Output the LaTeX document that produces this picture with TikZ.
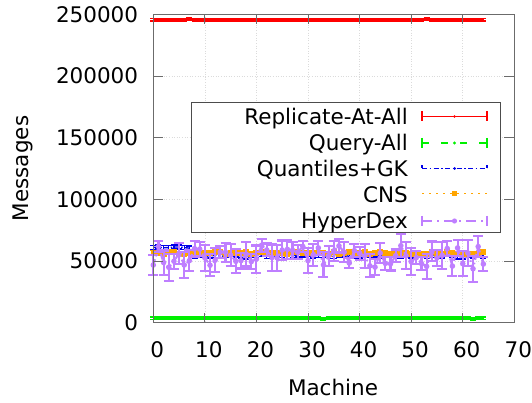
\documentclass[tikz,border=0pt]{standalone}
\usepackage{fontspec}
\setmainfont{DejaVu Sans}
\usetikzlibrary{calc}
\definecolor{repred}{HTML}{FF0000}
\definecolor{qgreen}{HTML}{00F000}
\definecolor{qblue}{HTML}{0000E8}
\definecolor{cnsorange}{HTML}{FFA500}
\definecolor{hdpurple}{HTML}{BF7FFF}
\begin{document}
\begin{tikzpicture}[x=1pt,y=-1pt,
  lbl/.style={inner sep=0pt, font=\fontsize{21.5}{25}\selectfont},
  frame/.style={draw=black!58, line width=0.9pt},
  gridline/.style={draw=black!14, dotted, line width=0.6pt},
  tickmark/.style={draw=black!58, line width=0.9pt},
  redser/.style={draw=repred, line width=1.4pt},
  greenser/.style={draw=qgreen, line width=1.4pt},
  blueser/.style={draw=qblue, line width=1.4pt},
  orangeser/.style={draw=cnsorange, line width=1.6pt},
  purpser/.style={draw=hdpurple, line width=2.1pt},
  keybox/.style={draw=black!70, fill=white, line width=0.8pt},
]
\useasboundingbox (0,0) rectangle (532,403);

% grid
\foreach \m in {10,20,...,60}
  \draw[gridline] ({153.3+\m*5.157},14.5) -- ({153.3+\m*5.157},322.7);
\foreach \k in {50,100,150,200}
  \draw[gridline] (153.3,{322.7-\k*1.2328}) -- (514.3,{322.7-\k*1.2328});

% Replicate-At-All
\pgfmathsetseed{7}
\foreach \i in {0,...,64}{
  \pgfmathsetmacro\px{153.3+\i*5.157}
  \pgfmathsetmacro\py{322.7-(245.8+0.15*rand)*1.2328}
  \coordinate (r\i) at (\px,\py);
  \draw[redser] ({\px-3},{\py-1.3}) -- ({\px+3},{\py-1.3}) (\px,{\py-1.3}) -- (\px,{\py+1.3}) ({\px-3},{\py+1.3}) -- ({\px+3},{\py+1.3});
}
\draw[redser, line width=2.2pt] (r0) \foreach \i in {1,...,64}{ -- (r\i)};

% Query-All
\pgfmathsetseed{21}
\foreach \i in {0,...,64}{
  \pgfmathsetmacro\px{153.3+\i*5.157}
  \pgfmathsetmacro\py{322.7-(3.8+0.4*rand)*1.2328}
  \coordinate (g\i) at (\px,\py);
  \draw[greenser] ({\px-3},{\py-1.3}) -- ({\px+3},{\py-1.3}) (\px,{\py-1.3}) -- (\px,{\py+1.3}) ({\px-3},{\py+1.3}) -- ({\px+3},{\py+1.3});
}
\draw[greenser, line width=2.2pt] (g0) \foreach \i in {1,...,64}{ -- (g\i)};

% Quantiles+GK
\pgfmathsetseed{33}
\foreach \i in {0,...,64}{
  \pgfmathsetmacro\px{153.3+\i*5.157}
  \pgfmathsetmacro\vb{ifthenelse(\i<8, 61.0+0.5*rand, 54.3+1.0*rand)}
  \pgfmathsetmacro\py{322.7-\vb*1.2328}
  \coordinate (b\i) at (\px,\py);
  \draw[blueser] ({\px-3},{\py-2}) -- ({\px+3},{\py-2}) (\px,{\py-2}) -- (\px,{\py+2}) ({\px-3},{\py+2}) -- ({\px+3},{\py+2});
}
\draw[blueser, dash pattern=on 5pt off 2pt on 1.5pt off 2pt] (b0) \foreach \i in {1,...,64}{ -- (b\i)};

% CNS
\pgfmathsetseed{45}
\foreach \i in {0,...,64}{
  \pgfmathsetmacro\px{153.3+\i*5.157}
  \pgfmathsetmacro\py{322.7-(56.5+0.8*rand)*1.2328}
  \coordinate (c\i) at (\px,\py);
  \draw[orangeser] ({\px-3},{\py-2.2}) -- ({\px+3},{\py-2.2}) (\px,{\py-2.2}) -- (\px,{\py+2.2}) ({\px-3},{\py+2.2}) -- ({\px+3},{\py+2.2});
  \fill[cnsorange] ({\px-2.6},{\py-2.6}) rectangle ({\px+2.6},{\py+2.6});
}
\draw[orangeser, dotted] (c0) \foreach \i in {1,...,64}{ -- (c\i)};

% HyperDex
\pgfmathsetseed{58}
\foreach \i in {0,...,64}{
  \pgfmathsetmacro\px{153.3+\i*5.157}
  \pgfmathsetmacro\vh{53+10*rand}
  \pgfmathsetmacro\eh{(4+7*rnd)*1.2328}
  \pgfmathsetmacro\py{322.7-\vh*1.2328}
  \coordinate (h\i) at (\px,\py);
  \draw[purpser] ({\px-5},{\py-\eh}) -- ({\px+5},{\py-\eh}) (\px,{\py-\eh}) -- (\px,{\py+\eh}) ({\px-5},{\py+\eh}) -- ({\px+5},{\py+\eh});
  \fill[hdpurple] (\px,\py) circle (2.8);
}
\draw[purpser, dash pattern=on 6pt off 3pt on 1.5pt off 3pt] (h0) \foreach \i in {1,...,64}{ -- (h\i)};

% frame and ticks
\draw[frame] (153.3,14.5) rectangle (514.3,322.7);
\foreach \m in {10,20,...,60}{
  \draw[tickmark] ({153.3+\m*5.157},322.7) -- ({153.3+\m*5.157},312.7);
  \draw[tickmark] ({153.3+\m*5.157},14.5) -- ({153.3+\m*5.157},24.5);
}
\foreach \k in {50,100,150,200}{
  \draw[tickmark] (153.3,{322.7-\k*1.2328}) -- (163.3,{322.7-\k*1.2328});
  \draw[tickmark] (514.3,{322.7-\k*1.2328}) -- (504.3,{322.7-\k*1.2328});
}

% tick labels
\foreach \m in {0,10,...,70}
  \node[lbl, anchor=base] (xt\m) at ({157.3+\m*5.157},357.8) {\m};
\foreach \k/\t in {0/0,50/50000,100/100000,150/150000,200/200000,250/250000}
  \node[lbl, anchor=base east] (yt\k) at (138.3,{330.5-\k*1.2328}) {\t};

% axis titles
\node[lbl, anchor=base] (xlabel) at (333,395.8) {Machine};
\node[lbl, anchor=base, rotate=90] (ylabel) at (28.3,168.5) {Messages};

% key
\draw[keybox] (191.7,102.3) rectangle (500.7,232.7);
\node[lbl, anchor=base east] (k1) at (408,124.8) {Replicate-At-All};
\node[lbl, anchor=base east] (k2) at (408,150.8) {Query-All};
\node[lbl, anchor=base east] (k3) at (408,176.8) {Quantiles+GK};
\node[lbl, anchor=base east] (k4) at (408,202.8) {CNS};
\node[lbl, anchor=base east] (k5) at (408,228.8) {HyperDex};

% key samples
\coordinate (s1a) at (422,116.5); \coordinate (s1b) at (487,116.5); \coordinate (s1m) at (454.5,116.5);
\draw[redser, line width=1.1pt] (s1a) -- (s1b) ($(s1a)+(0,-5)$) -- ($(s1a)+(0,5)$) ($(s1b)+(0,-5)$) -- ($(s1b)+(0,5)$);
\fill[repred] (s1m) circle (1.4);

\coordinate (s2a) at (422,143); \coordinate (s2b) at (487,143); \coordinate (s2m) at (454.5,143);
\draw[greenser, line width=1.1pt, dash pattern=on 7pt off 12pt] (s2a) -- (s2b);
\draw[greenser, line width=1.1pt] ($(s2a)+(0,-5)$) -- ($(s2a)+(0,5)$) ($(s2b)+(0,-5)$) -- ($(s2b)+(0,5)$) (s2a) -- +(5,0) (s2b) -- +(-5,0);
\fill[qgreen] (s2m) circle (1.6);

\coordinate (s3a) at (422,168.5); \coordinate (s3b) at (487,168.5); \coordinate (s3m) at (454.5,168.5);
\draw[blueser, line width=1.1pt, dash pattern=on 5pt off 2.5pt on 1.5pt off 2.5pt] (s3a) -- (s3b);
\draw[blueser, line width=1.1pt] ($(s3a)+(0,-3)$) -- ($(s3a)+(0,0)$) ($(s3b)+(0,-3)$) -- ($(s3b)+(0,0)$);
\fill[qblue] (s3m) circle (1.5);

\coordinate (s4a) at (422,193.5); \coordinate (s4b) at (487,193.5); \coordinate (s4m) at (454.5,193.5);
\draw[orangeser, dash pattern=on 1.5pt off 5.5pt] (s4a) -- (s4b);
\fill[cnsorange] ($(s4m)+(-2.2,-2.2)$) rectangle ($(s4m)+(2.2,2.2)$);

\coordinate (s5a) at (422,221); \coordinate (s5b) at (487,221); \coordinate (s5m) at (454.5,221);
\draw[purpser, line width=1.6pt, dash pattern=on 10pt off 5pt on 2pt off 5pt] (s5a) -- (s5b);
\draw[purpser, line width=1.6pt] ($(s5a)+(0,-5)$) -- ($(s5a)+(0,5)$) ($(s5b)+(0,-5)$) -- ($(s5b)+(0,5)$);
\fill[hdpurple] (s5m) circle (2.6);
\end{tikzpicture}
\end{document}
